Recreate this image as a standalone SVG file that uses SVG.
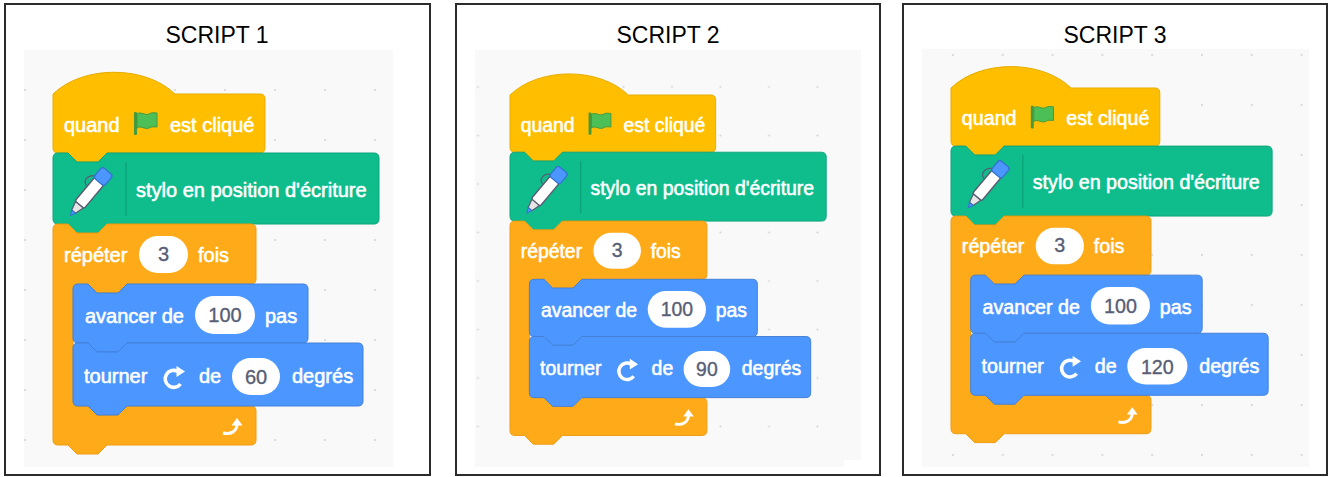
<svg xmlns="http://www.w3.org/2000/svg" xmlns:xlink="http://www.w3.org/1999/xlink" width="1333" height="477" viewBox="0 0 1333 477">
<style>
.frame{fill:#fff;stroke:#2b2b2b;stroke-width:2}
.bg{fill:#f9f9f9}
.title{font-family:"Liberation Sans",Arial,sans-serif;font-size:23px;fill:#000;text-anchor:middle}
.t{font-family:"Liberation Sans",Arial,sans-serif;font-size:20px;fill:#fff;stroke:#fff;stroke-width:0.55}
.n{font-family:"Liberation Sans",Arial,sans-serif;font-size:20px;fill:#575e75;stroke:#575e75;stroke-width:0.35;text-anchor:middle}
.hat{fill:#ffbf00;stroke:#e6ac00;stroke-width:1}
.pen{fill:#0fbd8c;stroke:#0da57a;stroke-width:1}
.ctl{fill:#ffab19;stroke:#ec9c13;stroke-width:1}
.mot{fill:#4c97ff;stroke:#4280d7;stroke-width:1}
.oval{fill:#fff}
.sep{stroke:#0b9a72;stroke-width:1}
</style>
<defs>
<pattern id="dots1" patternUnits="userSpaceOnUse" x="0" y="15" width="50" height="50"><circle cx="25" cy="25" r="1.1" fill="#d6d6d6"/></pattern>
<pattern id="dots2" patternUnits="userSpaceOnUse" x="453.75" y="62.75" width="48.5" height="48.5"><circle cx="24.25" cy="24.25" r="1.1" fill="#d6d6d6"/></pattern>
<pattern id="dots3" patternUnits="userSpaceOnUse" x="928.1" y="30.1" width="49.8" height="50"><circle cx="24.9" cy="24.9" r="1.1" fill="#d6d6d6"/></pattern>
<g id="flag">
<rect x="2" y="0" width="3" height="23" rx="1" fill="#45993d"/>
<path d="M5,2 C9,-1 13,4 17,2 C20,0 22,1 25,1 V15 C22,15 20,14 17,16 C13,18 9,13 5,16 Z" fill="#4cbf56" stroke="#45993d" stroke-width="1"/>
</g>
<g id="penicon">
<path d="M14,-7 C10,-13 3,-13 1,-7" fill="none" stroke="#575e75" stroke-width="1.3"/>
<rect x="-18" y="-6" width="31" height="12" rx="2" fill="#fff" stroke="#575e75" stroke-width="1.5"/>
<rect x="12" y="-7" width="14" height="14" rx="3" fill="#4c97ff" stroke="#3373cc" stroke-width="1.3"/>
<path d="M-18,-5 L-27,-2.5 L-27,2.5 L-18,5 Z" fill="#e6e6e6" stroke="#575e75" stroke-width="1.3"/>
<path d="M-27,-2.5 L-32,0 L-27,2.5 Z" fill="#4c97ff" stroke="#3373cc" stroke-width="1"/>
</g>
<g id="rot">
<path d="M178,371.5 A8.5,8.5 0 1 0 180.5,384" fill="none" stroke="#fff" stroke-width="3.6"/>
<path d="M176.5,366 L185,371.5 L176.5,377 Z" fill="#fff"/>
</g>
<g id="loop">
<path d="M223,433 C231,435 237,431 237,424" fill="none" stroke="#fff" stroke-width="3"/>
<path d="M231.5,425.5 L242.5,425.5 L237,418 Z" fill="#fff"/>
</g>
</defs>

<!-- frames and canvases -->
<rect class="frame" x="5" y="4" width="425" height="471"/>
<rect class="frame" x="456" y="4" width="424" height="471"/>
<rect class="frame" x="903" y="4" width="424" height="471"/>
<rect class="bg" x="24" y="50" width="369" height="417"/>
<rect class="bg" x="475" y="50" width="386" height="417"/>
<rect x="844" y="460" width="17" height="7" fill="#fff"/>
<rect class="bg" x="922" y="49" width="387" height="418"/>
<rect x="24" y="50" width="369" height="417" fill="url(#dots1)"/>
<rect x="475" y="50" width="386" height="410" fill="url(#dots2)"/>
<rect x="922" y="49" width="387" height="418" fill="url(#dots3)"/>

<text class="title" x="217" y="43">SCRIPT 1</text>
<text class="title" x="668" y="43">SCRIPT 2</text>
<text class="title" x="1115" y="43">SCRIPT 3</text>

<g id="connectors"/>

<!-- SCRIPT 1 -->
<g id="script1">
<g id="s1-hat">
<path class="hat" d="M53,94 C83,65 145,65 175,94 H260 Q265,94 265,99 V148 Q265,153 260,153 H107 L98,162 H77 L68,153 H58 Q53,153 53,148 Z"/>
<text class="t" x="64" y="132">quand</text>
<use xlink:href="#flag" transform="translate(132,112)"/>
<text class="t" x="170" y="132">est cliqué</text>
</g>
<g id="s1-pen">
<path class="pen" d="M53,158 Q53,153 58,153 H68 L77,162 H98 L107,153 H374 Q379,153 379,158 V219 Q379,224 374,224 H107 L98,233 H77 L68,224 H58 Q53,224 53,219 Z"/>
<use xlink:href="#penicon" transform="translate(91,191) rotate(-50)"/>
<line class="sep" x1="126" y1="162" x2="126" y2="216"/>
<text class="t" x="136" y="197">stylo en position d'écriture</text>
</g>
<g id="s1-repeat">
<path class="ctl" d="M53,229 Q53,224 58,224 H68 L77,233 H98 L107,224 H251 Q256,224 256,229 V279 Q256,284 251,284 H127 L118,293 H97 L88,284 H78 Q73,284 73,289 V401 Q73,406 78,406 H88 L97,415 H118 L127,406 H251 Q256,406 256,411 V440 Q256,445 251,445 H107 L98,454 H77 L68,445 H58 Q53,445 53,440 Z"/>
<text class="t" x="64" y="262">répéter</text>
<rect class="oval" x="139" y="236" width="49" height="37" rx="18.5"/>
<text class="n" x="163.5" y="261">3</text>
<text class="t" x="198" y="262">fois</text>
<use xlink:href="#loop"/>
</g>
<g id="s1-move">
<path class="mot" d="M73,289 Q73,284 78,284 H88 L97,293 H118 L127,284 H303 Q308,284 308,289 V338 Q308,343 303,343 H127 L118,352 H97 L88,343 H78 Q73,343 73,338 Z"/>
<text class="t" x="85" y="323">avancer de</text>
<rect class="oval" x="195" y="296" width="60" height="38" rx="19"/>
<text class="n" x="225" y="322">100</text>
<text class="t" x="265" y="323">pas</text>
</g>
<g id="s1-turn">
<path class="mot" d="M73,348 Q73,343 78,343 H88 L97,352 H118 L127,343 H358 Q363,343 363,348 V401 Q363,406 358,406 H127 L118,415 H97 L88,406 H78 Q73,406 73,401 Z"/>
<text class="t" x="84" y="383">tourner</text>
<use xlink:href="#rot"/>
<text class="t" x="199" y="383">de</text>
<rect class="oval" x="232" y="358" width="48" height="37" rx="18.5"/>
<text class="n" x="256" y="384">60</text>
<text class="t" x="292" y="383">degrés</text>
</g>
</g>

<!-- SCRIPT 2 -->
<g id="script2" transform="translate(510,95) scale(0.97) translate(-53,-94)">
<g id="s2-hat">
<path class="hat" d="M53,94 C83,65 145,65 175,94 H260 Q265,94 265,99 V148 Q265,153 260,153 H107 L98,162 H77 L68,153 H58 Q53,153 53,148 Z"/>
<text class="t" x="64" y="132">quand</text>
<use xlink:href="#flag" transform="translate(132,112)"/>
<text class="t" x="170" y="132">est cliqué</text>
</g>
<g id="s2-pen">
<path class="pen" d="M53,158 Q53,153 58,153 H68 L77,162 H98 L107,153 H374 Q379,153 379,158 V219 Q379,224 374,224 H107 L98,233 H77 L68,224 H58 Q53,224 53,219 Z"/>
<use xlink:href="#penicon" transform="translate(91,191) rotate(-50)"/>
<line class="sep" x1="126" y1="162" x2="126" y2="216"/>
<text class="t" x="136" y="197">stylo en position d'écriture</text>
</g>
<g id="s2-repeat">
<path class="ctl" d="M53,229 Q53,224 58,224 H68 L77,233 H98 L107,224 H251 Q256,224 256,229 V279 Q256,284 251,284 H127 L118,293 H97 L88,284 H78 Q73,284 73,289 V401 Q73,406 78,406 H88 L97,415 H118 L127,406 H251 Q256,406 256,411 V440 Q256,445 251,445 H107 L98,454 H77 L68,445 H58 Q53,445 53,440 Z"/>
<text class="t" x="64" y="262">répéter</text>
<rect class="oval" x="139" y="236" width="49" height="37" rx="18.5"/>
<text class="n" x="163.5" y="261">3</text>
<text class="t" x="198" y="262">fois</text>
<use xlink:href="#loop"/>
</g>
<g id="s2-move">
<path class="mot" d="M73,289 Q73,284 78,284 H88 L97,293 H118 L127,284 H303 Q308,284 308,289 V338 Q308,343 303,343 H127 L118,352 H97 L88,343 H78 Q73,343 73,338 Z"/>
<text class="t" x="85" y="323">avancer de</text>
<rect class="oval" x="195" y="296" width="60" height="38" rx="19"/>
<text class="n" x="225" y="322">100</text>
<text class="t" x="265" y="323">pas</text>
</g>
<g id="s2-turn">
<path class="mot" d="M73,348 Q73,343 78,343 H88 L97,352 H118 L127,343 H358 Q363,343 363,348 V401 Q363,406 358,406 H127 L118,415 H97 L88,406 H78 Q73,406 73,401 Z"/>
<text class="t" x="84" y="383">tourner</text>
<use xlink:href="#rot"/>
<text class="t" x="199" y="383">de</text>
<rect class="oval" x="232" y="358" width="48" height="37" rx="18.5"/>
<text class="n" x="256" y="384">90</text>
<text class="t" x="292" y="383">degrés</text>
</g>
</g>

<!-- SCRIPT 3 -->
<g id="script3" transform="translate(951,88) scale(0.985) translate(-53,-94)">
<g id="s3-hat">
<path class="hat" d="M53,94 C83,65 145,65 175,94 H260 Q265,94 265,99 V148 Q265,153 260,153 H107 L98,162 H77 L68,153 H58 Q53,153 53,148 Z"/>
<text class="t" x="64" y="132">quand</text>
<use xlink:href="#flag" transform="translate(132,112)"/>
<text class="t" x="170" y="132">est cliqué</text>
</g>
<g id="s3-pen">
<path class="pen" d="M53,158 Q53,153 58,153 H68 L77,162 H98 L107,153 H374 Q379,153 379,158 V219 Q379,224 374,224 H107 L98,233 H77 L68,224 H58 Q53,224 53,219 Z"/>
<use xlink:href="#penicon" transform="translate(91,191) rotate(-50)"/>
<line class="sep" x1="126" y1="162" x2="126" y2="216"/>
<text class="t" x="136" y="197">stylo en position d'écriture</text>
</g>
<g id="s3-repeat">
<path class="ctl" d="M53,229 Q53,224 58,224 H68 L77,233 H98 L107,224 H251 Q256,224 256,229 V279 Q256,284 251,284 H127 L118,293 H97 L88,284 H78 Q73,284 73,289 V401 Q73,406 78,406 H88 L97,415 H118 L127,406 H251 Q256,406 256,411 V440 Q256,445 251,445 H107 L98,454 H77 L68,445 H58 Q53,445 53,440 Z"/>
<text class="t" x="64" y="262">répéter</text>
<rect class="oval" x="139" y="236" width="49" height="37" rx="18.5"/>
<text class="n" x="163.5" y="261">3</text>
<text class="t" x="198" y="262">fois</text>
<use xlink:href="#loop"/>
</g>
<g id="s3-move">
<path class="mot" d="M73,289 Q73,284 78,284 H88 L97,293 H118 L127,284 H303 Q308,284 308,289 V338 Q308,343 303,343 H127 L118,352 H97 L88,343 H78 Q73,343 73,338 Z"/>
<text class="t" x="85" y="323">avancer de</text>
<rect class="oval" x="195" y="296" width="60" height="38" rx="19"/>
<text class="n" x="225" y="322">100</text>
<text class="t" x="265" y="323">pas</text>
</g>
<g id="s3-turn">
<path class="mot" d="M73,348 Q73,343 78,343 H88 L97,352 H118 L127,343 H370 Q375,343 375,348 V401 Q375,406 370,406 H127 L118,415 H97 L88,406 H78 Q73,406 73,401 Z"/>
<text class="t" x="84" y="383">tourner</text>
<use xlink:href="#rot"/>
<text class="t" x="199" y="383">de</text>
<rect class="oval" x="232" y="358" width="61" height="37" rx="18.5"/>
<text class="n" x="262.5" y="384">120</text>
<text class="t" x="305" y="383">degrés</text>
</g>
</g>
</svg>
